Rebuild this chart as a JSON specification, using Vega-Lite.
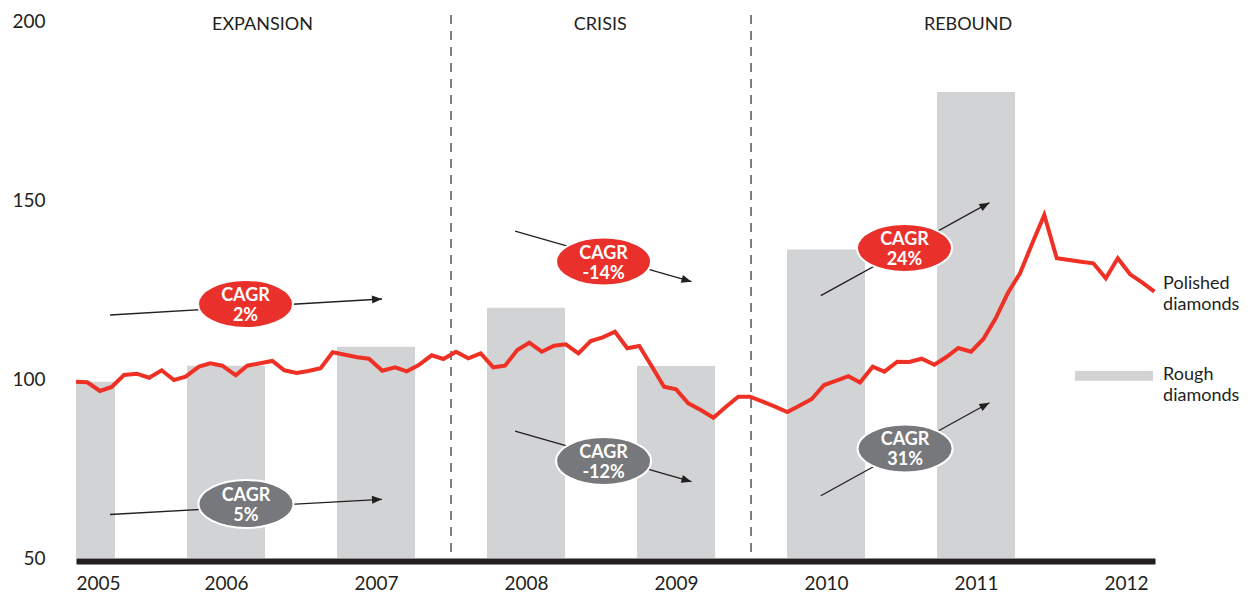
{
  "$schema": "https://vega.github.io/schema/vega-lite/v6.json",
  "width": 1079,
  "height": 537,
  "autosize": "none",
  "padding": {"left": 76, "top": 21, "right": 101, "bottom": 39},
  "config": {"view": {"stroke": null}, "font": "Lato", "text": {"font": "Lato"}},
  "datasets": {
    "rough": [
      {"t": 2005, "v": 99.2},
      {"t": 2006, "v": 103.7},
      {"t": 2007, "v": 109.0},
      {"t": 2008, "v": 119.9},
      {"t": 2009, "v": 103.6},
      {"t": 2010, "v": 136.2},
      {"t": 2011, "v": 180.2}
    ],
    "polished": [
      {"t": 2005.000, "v": 99.25}, {"t": 2005.075, "v": 99.08}, {"t": 2005.160, "v": 96.65}, {"t": 2005.238, "v": 97.77},
      {"t": 2005.320, "v": 101.12}, {"t": 2005.405, "v": 101.48}, {"t": 2005.487, "v": 100.36}, {"t": 2005.571, "v": 102.43},
      {"t": 2005.653, "v": 99.72}, {"t": 2005.731, "v": 100.64}, {"t": 2005.820, "v": 103.44}, {"t": 2005.895, "v": 104.39},
      {"t": 2005.975, "v": 103.72}, {"t": 2006.065, "v": 101.03}, {"t": 2006.142, "v": 103.72}, {"t": 2006.227, "v": 104.39},
      {"t": 2006.309, "v": 105.03}, {"t": 2006.389, "v": 102.43}, {"t": 2006.471, "v": 101.68}, {"t": 2006.549, "v": 102.23},
      {"t": 2006.631, "v": 102.99}, {"t": 2006.711, "v": 107.46}, {"t": 2006.793, "v": 106.79}, {"t": 2006.875, "v": 106.06},
      {"t": 2006.953, "v": 105.67}, {"t": 2007.042, "v": 102.32}, {"t": 2007.127, "v": 103.27}, {"t": 2007.205, "v": 102.15},
      {"t": 2007.282, "v": 103.83}, {"t": 2007.371, "v": 106.62}, {"t": 2007.449, "v": 105.59}, {"t": 2007.533, "v": 107.63},
      {"t": 2007.615, "v": 105.78}, {"t": 2007.698, "v": 107.18}, {"t": 2007.782, "v": 103.27}, {"t": 2007.860, "v": 103.72},
      {"t": 2007.942, "v": 108.10}, {"t": 2008.022, "v": 110.14}, {"t": 2008.105, "v": 107.63}, {"t": 2008.187, "v": 109.30},
      {"t": 2008.265, "v": 109.69}, {"t": 2008.349, "v": 107.18}, {"t": 2008.431, "v": 110.61}, {"t": 2008.511, "v": 111.65},
      {"t": 2008.593, "v": 113.21}, {"t": 2008.675, "v": 108.58}, {"t": 2008.755, "v": 109.22}, {"t": 2008.838, "v": 103.55},
      {"t": 2008.920, "v": 97.85}, {"t": 2009.000, "v": 97.12}, {"t": 2009.082, "v": 93.21}, {"t": 2009.165, "v": 91.34},
      {"t": 2009.249, "v": 89.19}, {"t": 2009.331, "v": 92.18}, {"t": 2009.415, "v": 95.06}, {"t": 2009.493, "v": 95.06},
      {"t": 2009.578, "v": 93.66}, {"t": 2009.660, "v": 92.26}, {"t": 2009.742, "v": 90.78}, {"t": 2009.822, "v": 92.54},
      {"t": 2009.905, "v": 94.41}, {"t": 2009.987, "v": 98.32}, {"t": 2010.069, "v": 99.53}, {"t": 2010.149, "v": 100.78},
      {"t": 2010.227, "v": 99.02}, {"t": 2010.311, "v": 103.44}, {"t": 2010.389, "v": 102.04}, {"t": 2010.475, "v": 104.83},
      {"t": 2010.555, "v": 104.75}, {"t": 2010.638, "v": 105.67}, {"t": 2010.722, "v": 103.99}, {"t": 2010.800, "v": 106.06},
      {"t": 2010.882, "v": 108.66}, {"t": 2010.967, "v": 107.63}, {"t": 2011.049, "v": 111.17}, {"t": 2011.131, "v": 116.96},
      {"t": 2011.211, "v": 123.94}, {"t": 2011.293, "v": 129.53}, {"t": 2011.375, "v": 137.91}, {"t": 2011.455, "v": 145.81},
      {"t": 2011.538, "v": 133.72}, {"t": 2011.620, "v": 133.24}, {"t": 2011.700, "v": 132.77}, {"t": 2011.782, "v": 132.32},
      {"t": 2011.865, "v": 128.13}, {"t": 2011.945, "v": 133.72}, {"t": 2012.027, "v": 129.25}, {"t": 2012.109, "v": 126.90},
      {"t": 2012.189, "v": 124.39}
    ],
    "dividers": [{"t": 2007.5, "top": 201.7, "bottom": 50}, {"t": 2009.5, "top": 201.7, "bottom": 50}],
    "phases": [
      {"t": 2006.243, "v": 198.8, "label": "EXPANSION"},
      {"t": 2008.495, "v": 198.8, "label": "CRISIS"},
      {"t": 2010.947, "v": 198.8, "label": "REBOUND"}
    ],
    "cagr": [
      {"phase": "Expansion", "series": "Polished", "label": "CAGR\n2%", "t": 2006.130, "v": 120.95, "t0": 2005.227, "v0": 117.88, "t1": 2007.040, "v1": 122.35},
      {"phase": "Expansion", "series": "Rough", "label": "CAGR\n5%", "t": 2006.133, "v": 65.08, "t0": 2005.227, "v0": 62.15, "t1": 2007.040, "v1": 66.40},
      {"phase": "Crisis", "series": "Polished", "label": "CAGR\n-14%", "t": 2008.517, "v": 132.82, "t0": 2007.927, "v0": 141.34, "t1": 2009.103, "v1": 127.18},
      {"phase": "Crisis", "series": "Rough", "label": "CAGR\n-12%", "t": 2008.517, "v": 77.09, "t0": 2007.927, "v0": 85.47, "t1": 2009.103, "v1": 71.31},
      {"phase": "Rebound", "series": "Polished", "label": "CAGR\n24%", "t": 2010.523, "v": 136.59, "t0": 2009.965, "v0": 123.27, "t1": 2011.089, "v1": 149.25},
      {"phase": "Rebound", "series": "Rough", "label": "CAGR\n31%", "t": 2010.527, "v": 80.59, "t0": 2009.965, "v0": 67.40, "t1": 2011.089, "v1": 93.38}
    ],
    "legendSwatch": [{"t0": 2011.66, "t1": 2012.18, "v0": 99.51, "v1": 102.23}],
    "legendText": [
      {"t": 2012.247, "v": 125.1, "label": "Polished\ndiamonds"},
      {"t": 2012.247, "v": 99.7, "label": "Rough\ndiamonds"}
    ]
  },
  "encoding": {
    "x": {
      "field": "t", "type": "quantitative", "title": null,
      "scale": {"domain": [2005, 2012.193], "nice": false, "zero": false, "padding": 0},
      "axis": {
        "values": [2005, 2006, 2007, 2008, 2009, 2010, 2011, 2012],
        "format": "d", "labelFlush": true, "ticks": false, "grid": false,
        "domainColor": "#231F20", "domainWidth": 6, "offset": 3,
        "labelPadding": 13, "labelFontSize": 19, "labelColor": "#231F20", "labelFont": "Lato"
      }
    },
    "y": {
      "field": "v", "type": "quantitative", "title": null,
      "scale": {"domain": [50, 200], "nice": false, "zero": false, "padding": 0},
      "axis": {
        "values": [50, 100, 150, 200], "ticks": false, "domain": false, "grid": false,
        "labelPadding": 31, "labelFontSize": 19, "labelColor": "#231F20", "labelFont": "Lato"
      }
    }
  },
  "layer": [
    {
      "data": {"name": "rough"},
      "mark": {"type": "bar", "size": 78, "color": "#D1D3D4", "clip": true},
      "encoding": {"y2": {"datum": 50}}
    },
    {
      "data": {"name": "dividers"},
      "mark": {"type": "rule", "color": "#3A3A3A", "strokeWidth": 1.3, "strokeDash": [9, 7]},
      "encoding": {
        "x": {"field": "t", "type": "quantitative", "title": null},
        "y": {"field": "top", "type": "quantitative", "title": null},
        "y2": {"field": "bottom"}
      }
    },
    {
      "data": {"name": "polished"},
      "mark": {"type": "line", "color": "#EE3124", "strokeWidth": 4, "strokeJoin": "miter"}
    },
    {
      "data": {"name": "cagr"},
      "mark": {"type": "rule", "color": "#231F20", "strokeWidth": 1.3},
      "encoding": {
        "x": {"field": "t0", "type": "quantitative", "title": null},
        "y": {"field": "v0", "type": "quantitative", "title": null},
        "x2": {"field": "t1"},
        "y2": {"field": "v1"}
      }
    },
    {
      "data": {"name": "cagr"},
      "transform": [{"filter": "datum.phase === 'Expansion'"}],
      "mark": {"type": "point", "shape": "M0,0L-2,-0.8L-2,0.8Z", "size": 100, "filled": true, "opacity": 1, "color": "#231F20", "angle": -3.3},
      "encoding": {
        "x": {"field": "t1", "type": "quantitative", "title": null},
        "y": {"field": "v1", "type": "quantitative", "title": null}
      }
    },
    {
      "data": {"name": "cagr"},
      "transform": [{"filter": "datum.phase === 'Crisis'"}],
      "mark": {"type": "point", "shape": "M0,0L-2,-0.8L-2,0.8Z", "size": 100, "filled": true, "opacity": 1, "color": "#231F20", "angle": 16},
      "encoding": {
        "x": {"field": "t1", "type": "quantitative", "title": null},
        "y": {"field": "v1", "type": "quantitative", "title": null}
      }
    },
    {
      "data": {"name": "cagr"},
      "transform": [{"filter": "datum.phase === 'Rebound'"}],
      "mark": {"type": "point", "shape": "M0,0L-2,-0.8L-2,0.8Z", "size": 100, "filled": true, "opacity": 1, "color": "#231F20", "angle": -28.9},
      "encoding": {
        "x": {"field": "t1", "type": "quantitative", "title": null},
        "y": {"field": "v1", "type": "quantitative", "title": null}
      }
    },
    {
      "data": {"name": "cagr"},
      "mark": {
        "type": "point",
        "shape": "M-1,0C-1,-0.279,-0.552,-0.505,0,-0.505C0.552,-0.505,1,-0.279,1,0C1,0.279,0.552,0.505,0,0.505C-0.552,0.505,-1,0.279,-1,0Z",
        "size": 9025, "filled": true, "opacity": 1, "stroke": "#FFFFFF", "strokeWidth": 2
      },
      "encoding": {
        "color": {
          "field": "series", "type": "nominal", "legend": null,
          "scale": {"domain": ["Polished", "Rough"], "range": ["#E9302A", "#77787B"]}
        }
      }
    },
    {
      "data": {"name": "cagr"},
      "mark": {"type": "text", "lineBreak": "\n", "lineHeight": 20, "fontSize": 18, "fontWeight": "bold", "color": "#FFFFFF", "baseline": "middle", "align": "center", "dy": -8},
      "encoding": {"text": {"field": "label"}}
    },
    {
      "data": {"name": "phases"},
      "mark": {"type": "text", "fontSize": 18, "color": "#231F20", "baseline": "middle", "align": "center"},
      "encoding": {"text": {"field": "label"}}
    },
    {
      "data": {"name": "legendSwatch"},
      "mark": {"type": "rect", "color": "#D1D3D4"},
      "encoding": {
        "x": {"field": "t0", "type": "quantitative", "title": null},
        "x2": {"field": "t1"},
        "y": {"field": "v0", "type": "quantitative", "title": null},
        "y2": {"field": "v1"}
      }
    },
    {
      "data": {"name": "legendText"},
      "mark": {"type": "text", "lineBreak": "\n", "lineHeight": 21, "fontSize": 18, "color": "#231F20", "baseline": "alphabetic", "align": "left"},
      "encoding": {"text": {"field": "label"}}
    }
  ]
}
